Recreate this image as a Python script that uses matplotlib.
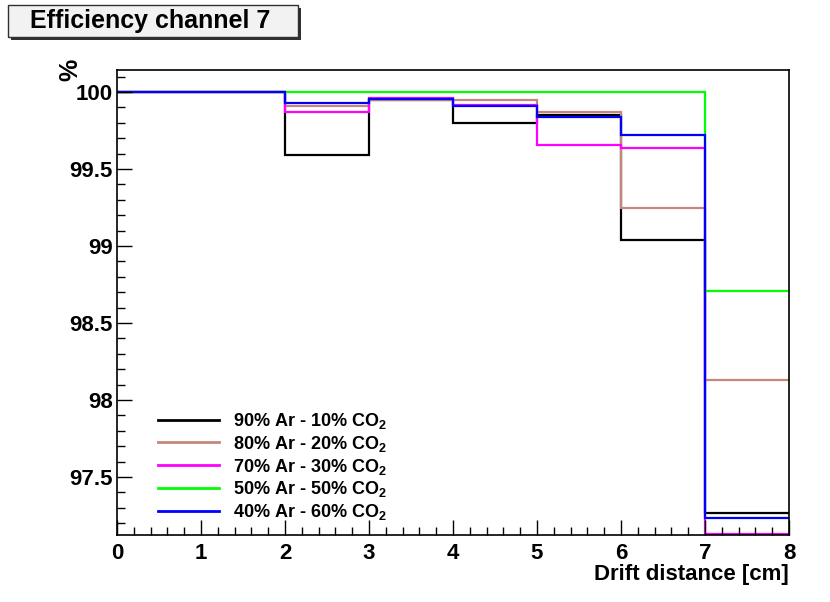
import matplotlib
matplotlib.use("Agg")
import matplotlib.pyplot as plt
from matplotlib.patches import Rectangle
from matplotlib.ticker import MultipleLocator, FormatStrFormatter
import numpy as np

plt.rcParams['font.family'] = ['Liberation Sans', 'DejaVu Sans']
plt.rcParams['font.weight'] = 'bold'
plt.rcParams['mathtext.fontset'] = 'custom'
plt.rcParams['mathtext.rm'] = 'Liberation Sans:bold'
plt.rcParams['mathtext.bf'] = 'Liberation Sans:bold'

# bin edges in drift distance [cm]
edges = [0, 1, 2, 3, 4, 5, 6, 7, 8]

# efficiency per bin [%]
eff_90_10 = [100, 100, 99.59, 99.95, 99.80, 99.85, 99.04, 97.265]
eff_80_20 = [100, 100, 99.91, 99.946, 99.949, 99.872, 99.247, 98.13]
eff_70_30 = [100, 100, 99.87, 99.96, 99.916, 99.654, 99.636, 97.13]
eff_50_50 = [100, 100, 100, 100, 100, 100, 100, 98.71]
eff_40_60 = [100, 100, 99.926, 99.955, 99.907, 99.838, 99.723, 97.232]

labels = ["90% Ar - 10% CO$_{2}$", "80% Ar - 20% CO$_{2}$",
          "70% Ar - 30% CO$_{2}$", "50% Ar - 50% CO$_{2}$",
          "40% Ar - 60% CO$_{2}$"]
colors = ['#000000', '#c4877b', '#ff00ff', '#00ff00', '#0000ff']
series = [eff_90_10, eff_80_20, eff_70_30, eff_50_50, eff_40_60]

fig = plt.figure(figsize=(8.30, 6.02), dpi=100)
ax = fig.add_axes([117 / 830, 1 - 535 / 602, 672 / 830, 465 / 602])

for vals, col, lab in zip(series, colors, labels):
    ax.stairs(vals, edges, baseline=None, color=col, lw=1.6, label=lab)

ax.set_xlim(0, 8)
ax.set_ylim(97.123, 100.143)

ax.xaxis.set_major_locator(MultipleLocator(1))
ax.xaxis.set_minor_locator(MultipleLocator(0.2))
ax.yaxis.set_major_locator(MultipleLocator(0.5))
ax.yaxis.set_minor_locator(MultipleLocator(0.1))
ax.yaxis.set_major_formatter(FormatStrFormatter('%g'))
ax.tick_params(which='both', direction='in', top=False, right=False,
               labelsize=16, width=1)
ax.tick_params(which='major', length=11, pad=6)
ax.tick_params(axis='y', which='major', pad=3)
ax.tick_params(which='minor', length=5.5)
for sp in ax.spines.values():
    sp.set_linewidth(1.2)

ax.set_xlabel("Drift distance [cm]", fontsize=16, fontweight='bold', loc='right')
ax.xaxis.set_label_coords(1.0, -0.084)
ax.xaxis.label.set_va('center')
ax.text(-0.07, 1.024, "%", transform=ax.transAxes, rotation=90,
        ha='center', va='top', fontsize=18, fontweight='bold')

leg = ax.legend(loc='upper left', bbox_to_anchor=(0.05, 0.282), frameon=False,
                fontsize=13, handlelength=3.4, handletextpad=0.75,
                labelspacing=0.15, borderaxespad=0)
for h in leg.get_lines():
    h.set_linewidth(2)

# title box with shadow
fig.add_artist(Rectangle((11 / 830, 1 - 40 / 602), 290 / 830, 32 / 602,
                         transform=fig.transFigure, facecolor='#303030',
                         edgecolor='none'))
fig.add_artist(Rectangle((8 / 830, 1 - 37 / 602), 290 / 830, 32 / 602,
                         transform=fig.transFigure, facecolor='#f2f2f2',
                         edgecolor='#303030', lw=1))
fig.text(150 / 830, 1 - 21 / 602, "Efficiency channel 7", ha='center',
         va='center', fontsize=18, fontweight='bold')

fig.savefig("out.png", dpi=100)
